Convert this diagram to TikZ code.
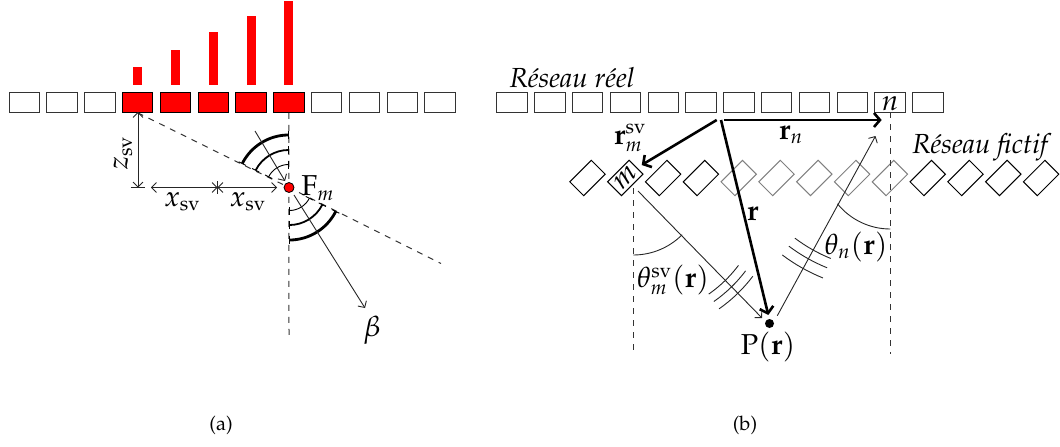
\documentclass[tikz,border=0pt]{standalone}
\usepackage[T1]{fontenc}
\usepackage{mathpazo}
\usepackage{amsmath}
\usepackage{tikz}
\usetikzlibrary{positioning, arrows.meta}
\tikzset{
    cellule/.style={draw, line width=0.5pt, inner sep=0, minimum width=15.2pt, minimum height=9.8pt},
    barre/.style={fill=red, inner sep=0, minimum width=4.5pt},
    guide/.style={dashed, black!80, line width=0.5pt},
    fin/.style={black!85, line width=0.45pt},
    fleche/.style={fin, -{Straight Barb[length=2.4pt,width=5pt,line width=0.45pt]}},
    double/.style={fin, {Straight Barb[length=2.4pt,width=5pt,line width=0.45pt]}-{Straight Barb[length=2.4pt,width=5pt,line width=0.45pt]}},
    epais/.style={line width=1.3pt, -{Straight Barb[length=3pt,width=7pt,line width=1.3pt]}},
    secteur/.style={{Bar[width=4pt,line width=0.45pt]}-{Bar[width=4pt,line width=0.45pt]}},
    legende/.style={inner sep=0, font=\Large},
    mention/.style={inner sep=0, font=\fontsize{13.8}{16}\selectfont\itshape}
}
\begin{document}
\begin{tikzpicture}[x=0.5pt, y=0.5pt]
    \useasboundingbox (0,0) rectangle (1060,446);
    % (a)
    \foreach \k in {0,1,2,8,9,10,11} \node[cellule, black!80] (g\k) at ({24.3+37.8*\k},343.5) {};
    \foreach \k in {3,...,7} \node[cellule, fill=red] (g\k) at ({24.3+37.8*\k},343.5) {};
    \foreach \k/\haut in {3/8.8, 4/17.7, 5/26.4, 6/34.7, 7/41.9}
        \node[barre, minimum height=\haut pt, above=3.4pt of g\k] (b\k) {};
    \coordinate (F) at (289,258.5);
    \coordinate (Fbas) at (289,108);
    \coordinate (Dfin) at (441,182.5);
    \coordinate (Zhaut) at (138,334);
    \coordinate (Zbas) at (138,258.5);
    \draw[guide] (g7.south) -- (Fbas);
    \draw[guide] (g3.south) -- (F) -- (Dfin);
    \foreach \ray/\ep in {23/0.45pt, 37.5/0.9pt, 52.5/1.4pt} {
        \draw[secteur, line width=\ep] (F) ++(90:\ray) arc[start angle=90, end angle=153.4, radius=\ray];
        \draw[secteur, line width=\ep] (F) ++(270:\ray) arc[start angle=270, end angle=333.4, radius=\ray];
    }
    \coordinate (Fa) at (255,315);
    \coordinate (Fb) at (285,265);
    \coordinate (Fc) at (294,251);
    \coordinate (Bt) at (365,138);
    \draw[fleche] (Fa) -- (Fb);
    \draw[fleche] (Fc) -- (Bt);
    \draw[double] (Zhaut) -- (Zbas);
    \draw[fin] (130.5,258.5) -- (145,258.5);
    \coordinate (Xa) at (151,258.5);
    \coordinate (Xb) at (217.5,258.5);
    \coordinate (Xc) at (277,258.5);
    \draw[double] (Xa) -- (Xb);
    \draw[double] (Xb) -- (Xc);
    \draw[fin] (217.5,265) -- (217.5,252);
    \node[circle, draw, fill=red, inner sep=0, minimum size=5pt] (Fm) at (F) {};
    \node[legende, rotate=90] (lz) at (123,293) {$z_{\mathrm{sv}}$};
    \node[legende] (lx1) at (182.5,244) {$x_{\mathrm{sv}}$};
    \node[legende] (lx2) at (248,244) {$x_{\mathrm{sv}}$};
    \node[legende] (lF) at (318,258) {$\mathrm{F}_m$};
    \node[legende] (lb) at (372,116) {$\beta$};
    \node[inner sep=0] (la) at (221,21) {(a)};
    % (b)
    \foreach \k in {0,...,11} \node[cellule, black!80] (h\k) at ({512+37.8*\k},343.5) {};
    \foreach \k in {0,1,2,3,9,10,11,12} \node[cellule, rotate=45] (d\k) at ({587.5+37.8*\k},268) {};
    \foreach \k in {4,...,8} \node[cellule, rotate=45, black!50] (d\k) at ({587.5+37.8*\k},268) {};
    \node[legende, rotate=45] (lm) at (d1) {$m$};
    \node[legende, yshift=-0.7pt] (ln) at (h10) {$n$};
    \node[mention] (lreel) at (572,368) {R\'eseau r\'eel};
    \node[mention] (lfict) at (980,299) {R\'eseau fictif};
    \coordinate (O) at (721,326);
    \coordinate (Om) at (716.7,326);
    \coordinate (On) at (724,326);
    \coordinate (Tm) at (641.7,281);
    \coordinate (Tn) at (881.7,326);
    \coordinate (Tr) at (768.3,131);
    \node[circle, fill=black, inner sep=0, minimum size=4.5pt] (P) at (769.5,122.5) {};
    \draw[epais] (Om) -- (Tm);
    \draw[epais] (On) -- (Tn);
    \draw[epais] (O) -- (Tr);
    \coordinate (Ga) at (633.3,258);
    \coordinate (Gb) at (633.3,92);
    \coordinate (Da) at (890.3,334);
    \coordinate (Db) at (890.3,92);
    \draw[guide] (Ga) -- (Gb);
    \draw[guide] (Da) -- (Db);
    \coordinate (Sa) at (638,255);
    \coordinate (Sb) at (762,128);
    \coordinate (Ra) at (777.3,130.3);
    \coordinate (Rb) at (875.5,310);
    \draw[fleche] (Sa) -- (Sb);
    \draw[fleche] (Ra) -- (Rb);
    \coordinate (Cm) at (633.3,260);
    \coordinate (Cn) at (890.3,285);
    \draw[fin] (Cm) ++(270:69) arc[start angle=270, end angle=315, radius=69];
    \draw[fin] (Cn) ++(270:68) arc[start angle=270, end angle=219, radius=68];
    \coordinate (Ondm) at (633,260);
    \coordinate (Ondn) at (890,334);
    \foreach \ray in {132,141,150}
        \draw[fin] (Ondm) ++(-55:\ray) arc[start angle=-55, end angle=-37, radius=\ray];
    \foreach \ray in {158,168,179}
        \draw[fin] (Ondn) ++(233:\ray) arc[start angle=233, end angle=248, radius=\ray];
    \node[legende] (lrm) at (630,308) {$\mathbf{r}_m^{\mathrm{sv}}$};
    \node[legende] (lrn) at (791,311) {$\mathbf{r}_n$};
    \node[legende] (lr) at (752.7,232) {$\mathbf{r}$};
    \node[legende] (lth1) at (673,166) {$\theta_m^{\mathrm{sv}}(\mathbf{r})$};
    \node[legende] (lth2) at (856,199) {$\theta_n(\mathbf{r})$};
    \node[legende] (lP) at (768,99) {$\mathrm{P}(\mathbf{r})$};
    \node[inner sep=0] (lb2) at (745,21) {(b)};
\end{tikzpicture}
\end{document}
